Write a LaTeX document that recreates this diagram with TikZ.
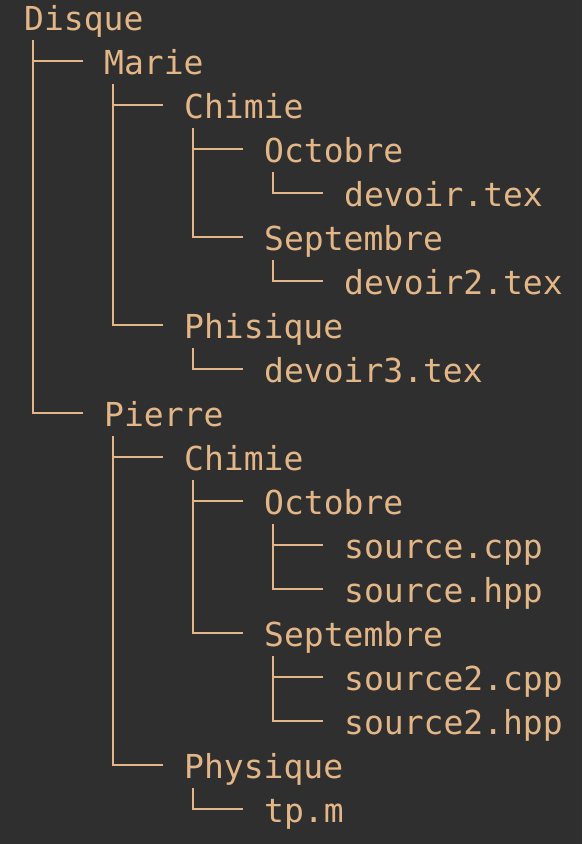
\documentclass[tikz,border=0pt]{standalone}
\usepackage{fontspec}
\setmonofont{DejaVu Sans Mono}
\usetikzlibrary{positioning}
\definecolor{fond}{HTML}{2F2F2F}
\definecolor{sable}{HTML}{E3B688}
\newcommand{\lien}[2]{\draw[branche] ([shift={(9,-10)}]#1.base west) |- ([shift={(-21,13)}]#2.base west);}

\begin{document}
\begin{tikzpicture}[x=1pt,y=1pt,dossier/.style={anchor=base west,inner sep=0pt,text=sable,font=\ttfamily\fontsize{33}{33}\selectfont},branche/.style={draw=sable,line width=2.6pt}]

				% Fond
				\fill[fond] (0,0) rectangle (582,-844);
				\useasboundingbox (0,0) rectangle (582,-844);

				% Définition des nœuds
				\node[dossier] (disque) at (24,-30) {Disque};
				\node[dossier] (marie) at (104,-74) {Marie};
				\node[dossier] (chimie1) at (184,-118) {Chimie};
				\node[dossier] (octobre1) at (264,-162) {Octobre};
				\node[dossier] (devoir1) at (344,-206) {devoir.tex};
				\node[dossier] (septembre1) at (264,-250) {Septembre};
				\node[dossier] (devoir2) at (344,-294) {devoir2.tex};
				\node[dossier] (phisique) at (184,-338) {Phisique};
				\node[dossier] (devoir3) at (264,-382) {devoir3.tex};
				\node[dossier] (pierre) at (104,-426) {Pierre};
				\node[dossier] (chimie2) at (184,-470) {Chimie};
				\node[dossier] (octobre2) at (264,-514) {Octobre};
				\node[dossier] (cpp1) at (344,-558) {source.cpp};
				\node[dossier] (hpp1) at (344,-602) {source.hpp};
				\node[dossier] (septembre2) at (264,-646) {Septembre};
				\node[dossier] (cpp2) at (344,-690) {source2.cpp};
				\node[dossier] (hpp2) at (344,-734) {source2.hpp};
				\node[dossier] (physique) at (184,-778) {Physique};
				\node[dossier] (tp) at (264,-822) {tp.m};

				% Branches de l'arbre
				\lien{disque}{marie}
				\lien{disque}{pierre}
				\lien{marie}{chimie1}
				\lien{marie}{phisique}
				\lien{chimie1}{octobre1}
				\lien{chimie1}{septembre1}
				\lien{octobre1}{devoir1}
				\lien{septembre1}{devoir2}
				\lien{phisique}{devoir3}
				\lien{pierre}{chimie2}
				\lien{pierre}{physique}
				\lien{chimie2}{octobre2}
				\lien{chimie2}{septembre2}
				\lien{octobre2}{cpp1}
				\lien{octobre2}{hpp1}
				\lien{septembre2}{cpp2}
				\lien{septembre2}{hpp2}
				\lien{physique}{tp}
			\end{tikzpicture}
\end{document}
